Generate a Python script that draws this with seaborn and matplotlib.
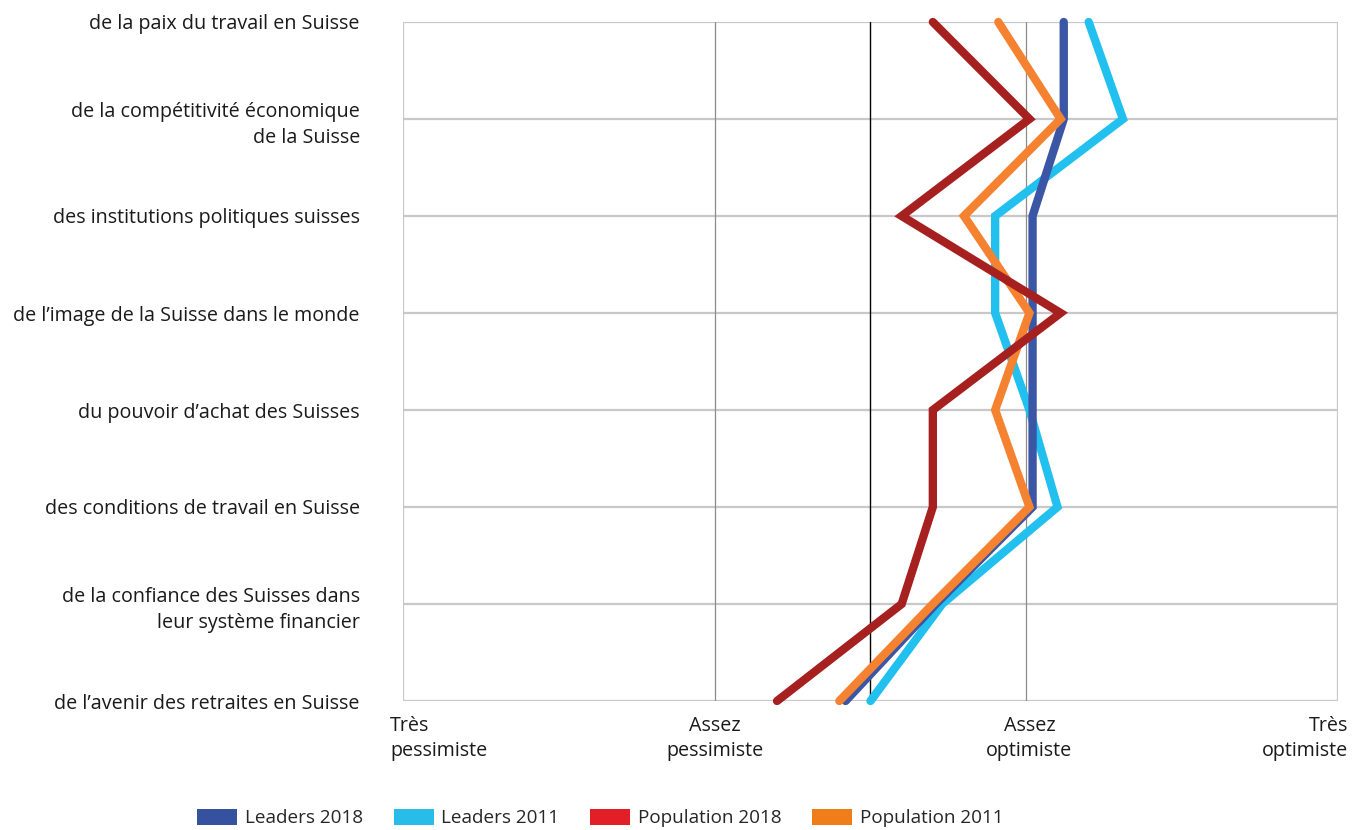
import matplotlib
matplotlib.use("Agg")
import matplotlib.pyplot as plt
import matplotlib.transforms as mtransforms
from matplotlib.patches import Patch
import seaborn as sns
import pandas as pd
import numpy as np

categories = [
    "de la paix du travail en Suisse",
    "de la compétitivité économique\nde la Suisse",
    "des institutions politiques suisses",
    "de l’image de la Suisse dans le monde",
    "du pouvoir d’achat des Suisses",
    "des conditions de travail en Suisse",
    "de la confiance des Suisses dans\nleur système financier",
    "de l’avenir des retraites en Suisse",
]
leaders_2018 = [3.12, 3.12, 3.02, 3.02, 3.02, 3.02, 2.71, 2.42]
leaders_2011 = [3.20, 3.31, 2.90, 2.90, 3.01, 3.10, 2.73, 2.50]
population_2018 = [2.70, 3.01, 2.60, 3.11, 2.70, 2.70, 2.60, 2.20]
population_2011 = [2.91, 3.11, 2.80, 3.01, 2.90, 3.01, 2.70, 2.40]
series_names = ["Leaders 2018", "Leaders 2011", "Population 2018", "Population 2011"]
x_ticks = [1, 2, 3, 4]
x_ticklabels = ["Très\npessimiste", "Assez\npessimiste", "Assez\noptimiste", "Très\noptimiste"]

line_colors = ["#3a56a5", "#22c0ef", "#a6201f", "#f58231"]
legend_colors = ["#36519f", "#28bde8", "#e21f26", "#ef7d1a"]

rows = []
for name, vals in zip(series_names, [leaders_2018, leaders_2011, population_2018, population_2011]):
    for i, v in enumerate(vals):
        rows.append({"serie": name, "pos": i, "valeur": v})
df = pd.DataFrame(rows)

sns.set_theme(style="white")
plt.rcParams["font.family"] = ["Open Sans", "DejaVu Sans"]

FS = 14.2
fig = plt.figure(figsize=(13.52, 8.30), dpi=100)
ax = fig.add_axes([403/1352, 1-701/830, (1338-403)/1352, (701-22)/830])

# grid
for i in range(len(categories)):
    ax.axhline(i, color="#c8c8c8", lw=1.6, zorder=0)
for xv in [1, 4]:
    ax.axvline(xv, color="#c8c8c8", lw=1.6, zorder=0)
for xv in [2, 3]:
    ax.axvline(xv, color="#8c8c8c", lw=0.9, zorder=0)
ax.axvline(2.5, color="black", lw=1.0, zorder=0.5)

palette = dict(zip(series_names, line_colors))
sns.lineplot(data=df, x="valeur", y="pos", hue="serie", hue_order=series_names,
             palette=palette, sort=False, orient="y", lw=6, legend=False, ax=ax,
             estimator=None)
z = {"#3a56a5": 3, "#22c0ef": 2, "#a6201f": 5, "#f58231": 4}
for ln in ax.get_lines():
    if ln.get_linewidth() > 3:
        ln.set_solid_capstyle("round")
        ln.set_solid_joinstyle("miter")
        ln.set_clip_on(False)
        ln.set_zorder(z.get(matplotlib.colors.to_hex(ln.get_color()), 3))

ax.set_xlim(1, 4)
ax.set_ylim(len(categories) - 1, 0)
for s in ax.spines.values():
    s.set_visible(False)
ax.set_xlabel("")
ax.set_ylabel("")

ax.set_yticks(range(len(categories)))
ax.set_yticklabels(categories, fontsize=FS, color="#1a1a1a", linespacing=1.42)
ax.tick_params(axis="y", length=0, pad=31)
for t in ax.get_yticklabels():
    t.set_multialignment("right")

ax.set_xticks(x_ticks)
ax.set_xticklabels(x_ticklabels, fontsize=FS, color="#1a1a1a", linespacing=1.33)
ax.tick_params(axis="x", length=0, pad=11)
xl = ax.get_xticklabels()
for t in xl:
    t.set_multialignment("center")
xl[0].set_ha("left"); xl[0].set_multialignment("left")
xl[0].set_transform(xl[0].get_transform() + mtransforms.ScaledTranslation(-13/100, 0, fig.dpi_scale_trans))
xl[-1].set_ha("right"); xl[-1].set_multialignment("right")
xl[-1].set_transform(xl[-1].get_transform() + mtransforms.ScaledTranslation(10/100, 0, fig.dpi_scale_trans))
xl[2].set_transform(xl[2].get_transform() + mtransforms.ScaledTranslation(3/100, 0, fig.dpi_scale_trans))

handles = [Patch(facecolor=c, edgecolor="none", label=n) for c, n in zip(legend_colors, series_names)]
fig.legend(handles=handles, loc="lower left", bbox_to_anchor=(188/1352, -0.008), ncol=4,
           frameon=False, fontsize=13.6, handlelength=2.1, handleheight=0.9,
           handletextpad=0.4, columnspacing=1.65, borderaxespad=0.1)

fig.savefig("out.png", dpi=100, facecolor="white")
